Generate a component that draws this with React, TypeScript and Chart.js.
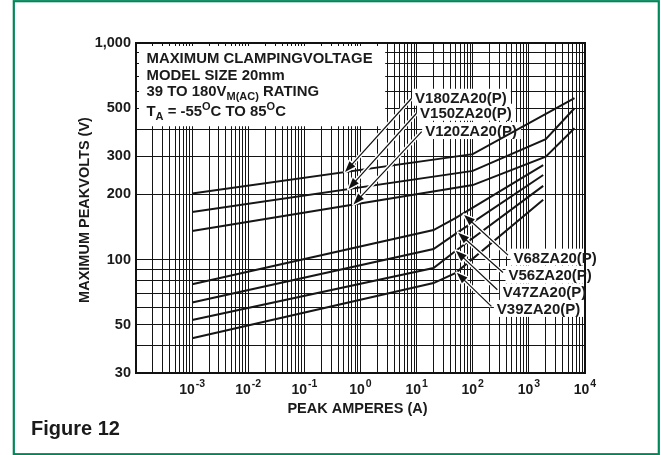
import React, { useEffect, useRef } from 'react';
import { Chart, registerables } from 'chart.js';

Chart.register(...registerables);

// ---- data ----
const xV180 = [0.001, 100, 6500];
const yV180 = [202, 307, 556];
const xV150 = [0.001, 100, 2000, 6500];
const yV150 = [166, 257, 360, 500];
const xV120 = [0.001, 100, 2000, 6500];
const yV120 = [135.6, 221, 299, 404];
const xLow = [0.001, 20, 50, 1800];
const yV68 = [77, 137, 156, 273];
const yV56 = [63.4, 112, 132, 246];
const yV47 = [52.7, 91.5, 110, 219];
const yV39 = [43.4, 78, 87, 189];

const seriesNames = ['V180ZA20(P)', 'V150ZA20(P)', 'V120ZA20(P)', 'V68ZA20(P)', 'V56ZA20(P)', 'V47ZA20(P)', 'V39ZA20(P)'];
// label anchor (left, baseline) and arrow tip, in data coordinates
const labelX = [9.4, 11.5, 14.2, 532, 433, 344, 269];
const labelY = [530, 452, 372, 96.9, 80.6, 67.1, 56.2];
const tipX = [0.53, 0.61, 0.75, 70, 55, 50, 52];
const tipY = [254, 212, 180, 161, 133, 110, 87];

const xTickExponents = [-3, -2, -1, 0, 1, 2, 3, 4];
const yTickValues = [30, 50, 100, 200, 300, 500, 1000];
const yTickLabels = ['30', '50', '100', '200', '300', '500', '1,000'];

const xTitle = 'PEAK AMPERES (A)';
const yTitle = 'MAXIMUM PEAKVOLTS (V)';
const figureLabel = 'Figure 12';
type Part = [string, 'n' | 'sub' | 'sup'];
const infoLines: Part[][] = [
  [['MAXIMUM CLAMPINGVOLTAGE', 'n']],
  [['MODEL SIZE 20mm', 'n']],
  [['39 TO 180V', 'n'], ['M(AC)', 'sub'], [' RATING', 'n']],
  [['T', 'n'], ['A', 'sub'], [' = -55', 'n'], ['O', 'sup'], ['C TO 85', 'n'], ['O', 'sup'], ['C', 'n']],
];

const seriesX = [xV180, xV150, xV120, xLow, xLow, xLow, xLow];
const seriesY = [yV180, yV150, yV120, yV68, yV56, yV47, yV39];

// log grid values
const xGrid: number[] = [];
for (let e = -4; e <= 3; e++) for (let m = 1; m <= 9; m++) xGrid.push(m * Math.pow(10, e));
xGrid.push(1e4);
const yGrid: number[] = [];
for (let m = 3; m <= 9; m++) yGrid.push(m * 10);
for (let m = 1; m <= 9; m++) yGrid.push(m * 100);
yGrid.push(1000);

const FONT = '"Liberation Sans", Arial, Helvetica, sans-serif';
const font = (px: number) => `bold ${px}px ${FONT}`;

function drawArrow(ctx: CanvasRenderingContext2D, x0: number, y0: number, x1: number, y1: number) {
  const ang = Math.atan2(y1 - y0, x1 - x0);
  const c = Math.cos(ang), s = Math.sin(ang);
  const hl = 11, hw = 4;
  const bx = x1 - hl * c, by = y1 - hl * s;
  const p1 = [bx - hw * s, by + hw * c];
  const p2 = [bx + hw * s, by - hw * c];
  ctx.save();
  ctx.lineCap = 'butt';
  ctx.strokeStyle = '#fff';
  ctx.lineWidth = 4;
  ctx.beginPath(); ctx.moveTo(x0, y0); ctx.lineTo(bx, by); ctx.stroke();
  ctx.lineWidth = 3;
  ctx.lineJoin = 'round';
  ctx.beginPath(); ctx.moveTo(x1, y1); ctx.lineTo(p1[0], p1[1]); ctx.lineTo(p2[0], p2[1]); ctx.closePath(); ctx.stroke();
  ctx.fillStyle = '#111';
  ctx.fill();
  ctx.strokeStyle = '#111';
  ctx.lineWidth = 1.2;
  ctx.beginPath(); ctx.moveTo(x0, y0); ctx.lineTo(bx + 2 * c, by + 2 * s); ctx.stroke();
  ctx.restore();
}

function drawRich(ctx: CanvasRenderingContext2D, x: number, y: number, parts: Part[], size: number) {
  let cx = x;
  for (const [t, k] of parts) {
    const sz = k === 'n' ? size : size * 0.74;
    const dy = k === 'sub' ? 4 : k === 'sup' ? -6 : 0;
    ctx.font = font(sz);
    ctx.fillText(t, cx, y + dy);
    cx += ctx.measureText(t).width;
  }
}

const overlay = {
  id: 'overlay',
  beforeDatasetsDraw(chart: any) {
    const { ctx, chartArea: a, scales } = chart;
    const x = scales.x, y = scales.y;
    ctx.save();
    ctx.fillStyle = '#fff';
    // info box
    const boxRight = a.left + a.width * 0.555;
    ctx.fillRect(a.left + 3, a.top + 3, boxRight - a.left - 3, y.getPixelForValue(400) - a.top - 6);
    // label backgrounds
    ctx.font = font(15);
    for (let i = 0; i < seriesNames.length; i++) {
      const lx = x.getPixelForValue(labelX[i]);
      const ly = y.getPixelForValue(labelY[i]);
      const w = ctx.measureText(seriesNames[i]).width;
      ctx.fillRect(lx - 3, ly - 14, w + 7, 17);
    }
    ctx.restore();
  },
  afterDraw(chart: any) {
    const { ctx, chartArea: a, scales } = chart;
    const x = scales.x, y = scales.y;
    ctx.save();
    // frame
    ctx.strokeStyle = '#111';
    ctx.lineWidth = 2;
    ctx.strokeRect(a.left, a.top, a.right - a.left, a.bottom - a.top);

    ctx.fillStyle = '#1a1a1a';
    // info text
    ctx.textAlign = 'left';
    ctx.textBaseline = 'alphabetic';
    const baselines = [20, 36.5, 53, 73];
    infoLines.forEach((ln, i) => drawRich(ctx, a.left + 10.5, a.top + baselines[i], ln, 14.9));

    // series labels and arrows
    for (let i = 0; i < seriesNames.length; i++) {
      const lx = x.getPixelForValue(labelX[i]);
      const ly = y.getPixelForValue(labelY[i]);
      ctx.font = font(15);
      ctx.fillStyle = '#1a1a1a';
      ctx.fillText(seriesNames[i], lx, ly);
      const upper = i < 3;
      const tx = lx + (upper ? -3.5 : -5.5);
      const ty = ly + (upper ? -4.5 : -7.5);
      drawArrow(ctx, tx, ty, x.getPixelForValue(tipX[i]), y.getPixelForValue(tipY[i]));
    }

    // y tick labels
    ctx.fillStyle = '#1a1a1a';
    ctx.font = font(14.5);
    ctx.textAlign = 'right';
    ctx.textBaseline = 'middle';
    yTickValues.forEach((v, i) => ctx.fillText(yTickLabels[i], a.left - 5, y.getPixelForValue(v)));

    // x tick labels 10^n
    ctx.textAlign = 'left';
    ctx.textBaseline = 'alphabetic';
    xTickExponents.forEach((e) => {
      const px = x.getPixelForValue(Math.pow(10, e));
      ctx.font = font(14);
      const w1 = ctx.measureText('10').width;
      ctx.font = font(10.5);
      const w2 = ctx.measureText(String(e)).width;
      const start = px - (w1 + w2 + 1) / 2;
      ctx.font = font(14);
      ctx.fillText('10', start, a.bottom + 21);
      ctx.font = font(10.5);
      ctx.fillText(String(e), start + w1 + 1, a.bottom + 14);
    });

    // axis titles
    ctx.font = font(14.5);
    ctx.textAlign = 'center';
    ctx.fillText(xTitle, (a.left + a.right) / 2 - 3, a.bottom + 40);
    ctx.save();
    ctx.translate(a.left - 47, (a.top + a.bottom) / 2 + 2);
    ctx.rotate(-Math.PI / 2);
    ctx.fillText(yTitle, 0, 0);
    ctx.restore();

    // figure label
    ctx.textAlign = 'left';
    ctx.font = font(20);
    ctx.fillText(figureLabel, 31, 435);

    // green frame
    ctx.strokeStyle = '#00875a';
    ctx.lineWidth = 2.2;
    ctx.strokeRect(13.8, 1.2, 645, 453);
    ctx.restore();
  },
};

export default function App() {
  const ref = useRef<HTMLCanvasElement>(null);
  useEffect(() => {
    const chart = new Chart(ref.current as HTMLCanvasElement, {
      type: 'line',
      data: {
        datasets: seriesNames.map((name, i) => ({
          label: name,
          data: seriesX[i].map((xv, j) => ({ x: xv, y: seriesY[i][j] })),
          borderColor: '#161616',
          borderWidth: 2,
          pointRadius: 0,
          fill: false,
          tension: 0,
        })),
      },
      options: {
        responsive: false,
        animation: false,
        events: [],
        layout: { padding: { left: 136, right: 76, top: 43, bottom: 82 } },
        plugins: { legend: { display: false }, tooltip: { enabled: false } },
        scales: {
          x: {
            type: 'logarithmic',
            min: 1e-4,
            max: 1e4,
            ticks: { display: false },
            grid: { color: '#141414', lineWidth: 1, drawTicks: false },
            border: { display: false },
            afterBuildTicks: (s: any) => { s.ticks = xGrid.map((v) => ({ value: v })); },
          },
          y: {
            type: 'logarithmic',
            min: 30,
            max: 1000,
            ticks: { display: false },
            grid: { color: '#141414', lineWidth: 1, drawTicks: false },
            border: { display: false },
            afterBuildTicks: (s: any) => { s.ticks = yGrid.map((v) => ({ value: v })); },
          },
        },
      } as any,
      plugins: [overlay],
    });
    return () => chart.destroy();
  }, []);
  return (
    <div style={{ position: 'absolute', left: 0, top: 0, width: 661, height: 455, background: '#fff' }}>
      <canvas ref={ref} width={661} height={455} style={{ display: 'block', width: 661, height: 455 }} />
    </div>
  );
}
